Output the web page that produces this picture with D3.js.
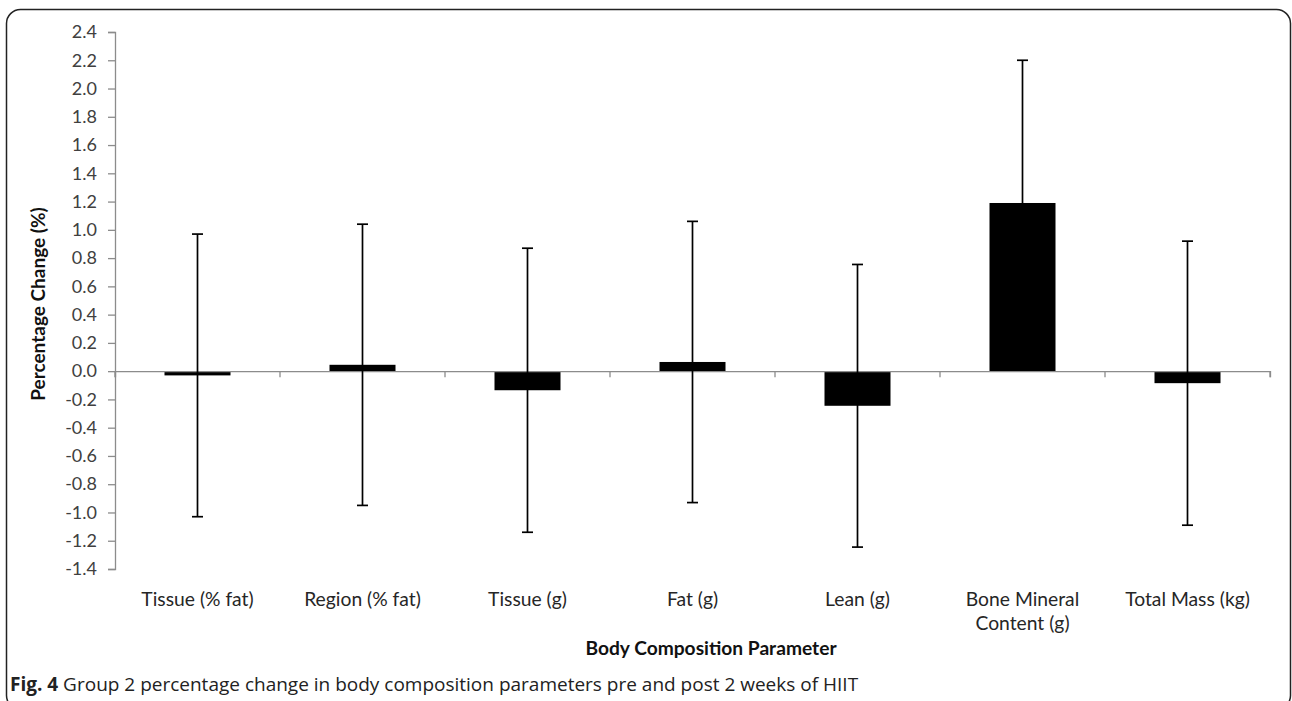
<!DOCTYPE html>
<html>
<head>
<meta charset="utf-8">
<script src="https://cdn.jsdelivr.net/npm/d3@7"></script>
<style>
  html, body { margin: 0; padding: 0; background: #fff; }
  svg { display: block; }
</style>
</head>
<body>
<svg id="chart" width="1292" height="701"></svg>
<script>
// ---- data ----
const categories = ["Tissue (% fat)", "Region (% fat)", "Tissue (g)", "Fat (g)", "Lean (g)", "Bone Mineral Content (g)", "Total Mass (kg)"];
const categoryLines = [["Tissue (% fat)"], ["Region (% fat)"], ["Tissue (g)"], ["Fat (g)"], ["Lean (g)"], ["Bone Mineral", "Content (g)"], ["Total Mass (kg)"]];
const meanChange = [-0.03, 0.045, -0.135, 0.065, -0.245, 1.19, -0.085];
const sdChange = [1.0, 0.995, 1.005, 0.995, 1.0, 1.01, 1.005];
const yTicks = [-1.4, -1.2, -1.0, -0.8, -0.6, -0.4, -0.2, 0.0, 0.2, 0.4, 0.6, 0.8, 1.0, 1.2, 1.4, 1.6, 1.8, 2.0, 2.2, 2.4];
const yTitle = "Percentage Change (%)";
const xTitle = "Body Composition Parameter";
const captionBold = "Fig. 4";
const captionText = " Group 2 percentage change in body composition parameters pre and post 2 weeks of HIIT";

// ---- layout ----
const svg = d3.select("#chart");
const plotLeft = 115, plotRight = 1270, plotTop = 32, plotBottom = 569;
const labelFont = "Lato, 'Liberation Sans', sans-serif";

// frame
svg.append("rect")
  .attr("x", 6.5).attr("y", 9.5)
  .attr("width", 1284).attr("height", 700)
  .attr("rx", 14).attr("ry", 14)
  .attr("fill", "none").attr("stroke", "#222").attr("stroke-width", 1.5);

const y = d3.scaleLinear().domain([-1.4, 2.4]).range([plotBottom, plotTop]);
const x = d3.scaleBand().domain(categories).range([plotLeft, plotRight]).paddingInner(0).paddingOuter(0);
const barW = x.bandwidth() * 0.4;

// y axis
const yAxis = d3.axisLeft(y).tickValues(yTicks).tickFormat(d3.format(".1f")).tickSize(7).tickPadding(11);
const gy = svg.append("g").attr("transform", `translate(${plotLeft},0)`).call(yAxis);
gy.select(".domain").attr("stroke", "#8c8c8c").attr("stroke-width", 1.3);
gy.selectAll(".tick line").attr("stroke", "#8c8c8c").attr("stroke-width", 1.3);
gy.selectAll(".tick text")
  .attr("fill", "#404040")
  .style("font-family", labelFont)
  .style("font-size", "18px")
  .text(d => d3.format(".1f")(d).replace("−", "-"));

// bars
svg.append("g").selectAll("rect")
  .data(categories)
  .join("rect")
  .attr("x", (d) => x(d) + (x.bandwidth() - barW) / 2)
  .attr("y", (d, i) => y(Math.max(0, meanChange[i])))
  .attr("width", barW)
  .attr("height", (d, i) => Math.abs(y(meanChange[i]) - y(0)))
  .attr("fill", "#000");

// x axis (at zero)
const xAxis = d3.axisBottom(x).tickSize(6).tickFormat("");
const gx = svg.append("g").attr("transform", `translate(0,${y(0)})`).call(xAxis);
gx.select(".domain").attr("stroke", "#8c8c8c").attr("stroke-width", 1.3);
gx.selectAll(".tick line").remove();
// category boundary ticks
gx.selectAll("line.bound")
  .data(d3.range(categories.length + 1))
  .join("line")
  .attr("class", "bound")
  .attr("x1", i => plotLeft + i * x.step()).attr("x2", i => plotLeft + i * x.step())
  .attr("y1", 0).attr("y2", 6)
  .attr("stroke", "#8c8c8c").attr("stroke-width", 1.3);

// error bars
const eg = svg.append("g").attr("stroke", "#000").attr("stroke-width", 1.7);
categories.forEach((c, i) => {
  const cx = x(c) + x.bandwidth() / 2;
  const hi = meanChange[i] + sdChange[i], lo = meanChange[i] - sdChange[i];
  eg.append("line").attr("x1", cx).attr("x2", cx).attr("y1", y(hi)).attr("y2", y(lo));
  eg.append("line").attr("x1", cx - 5.5).attr("x2", cx + 5.5).attr("y1", y(hi)).attr("y2", y(hi));
  eg.append("line").attr("x1", cx - 5.5).attr("x2", cx + 5.5).attr("y1", y(lo)).attr("y2", y(lo));
});

// category labels
categories.forEach((c, i) => {
  const cx = x(c) + x.bandwidth() / 2;
  const t = svg.append("text")
    .attr("x", cx).attr("y", 606)
    .attr("text-anchor", "middle")
    .attr("fill", "#262626")
    .style("font-family", labelFont)
    .style("font-size", "19.3px");
  categoryLines[i].forEach((ln, k) => {
    t.append("tspan").attr("x", cx).attr("dy", k === 0 ? 0 : 24).text(ln);
  });
});

// axis titles
svg.append("text")
  .attr("x", 711).attr("y", 655)
  .attr("text-anchor", "middle")
  .attr("fill", "#111")
  .style("font-family", labelFont)
  .style("font-size", "19.2px")
  .style("font-weight", "bold")
  .text(xTitle);

svg.append("text")
  .attr("transform", "translate(45,304) rotate(-90)")
  .attr("text-anchor", "middle")
  .attr("fill", "#111")
  .style("font-family", labelFont)
  .style("font-size", "19px")
  .style("font-weight", "bold")
  .text(yTitle);

// caption
const cap = svg.append("text")
  .attr("x", 10).attr("y", 691)
  .attr("fill", "#222")
  .style("font-family", "'Open Sans', 'Noto Sans', sans-serif")
  .style("font-size", "19px");
cap.append("tspan").style("font-weight", "bold").text(captionBold);
cap.append("tspan").text(captionText);
</script>
</body>
</html>
